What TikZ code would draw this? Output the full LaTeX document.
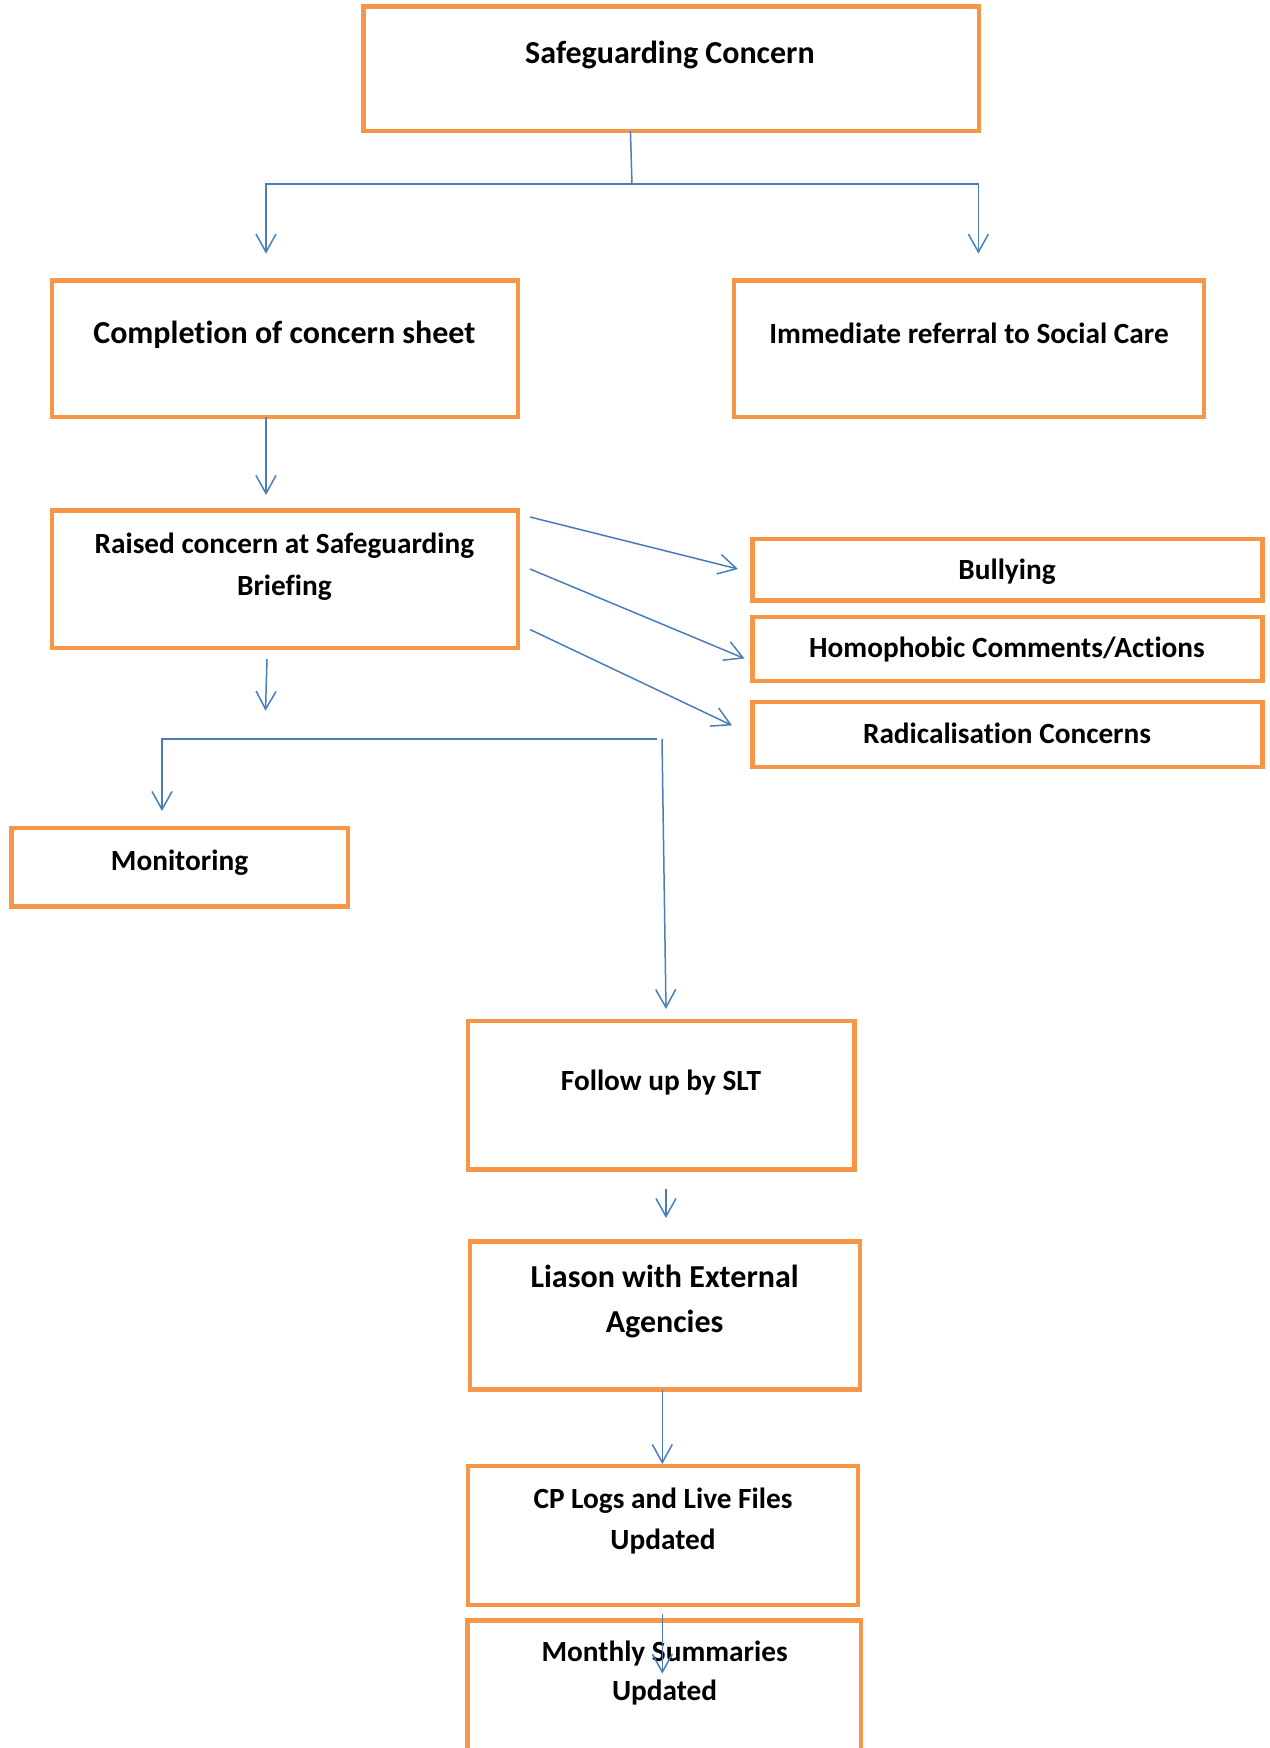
\documentclass[tikz,border=0pt]{standalone}
\usepackage{fontspec}
\setmainfont{Carlito}[Ligatures={NoCommon}]
\usetikzlibrary{arrows.meta}
\definecolor{boxorange}{HTML}{F79646}
\definecolor{linkblue}{HTML}{4A7EBB}
\tikzset{
  box/.style={draw=boxorange, line width=4.5pt, rectangle, inner sep=0pt, outer sep=0pt},
  bigtxt/.style={anchor=base, inner sep=0pt, align=center, font=\fontsize{32}{45}\selectfont\bfseries},
  smalltxt/.style={anchor=base, inner sep=0pt, align=center, font=\fontsize{29.3}{41.5}\selectfont\bfseries},
  conn/.style={draw=linkblue, line width=1.5pt},
  arr/.style={conn, -{Straight Barb[length=18pt,width=20pt]}},
}
\begin{document}
\begin{tikzpicture}[x=1pt,y=-1pt]
\useasboundingbox (0,0) rectangle (1269,1748);
% boxes
\node[box, minimum width=615.8pt, minimum height=124.3pt] (b1) at (671.3,68.65) {};
\node[box, minimum width=466.2pt, minimum height=136.6pt] (b2) at (284.9,348.7) {};
\node[box, minimum width=470.2pt, minimum height=136.6pt] (b3) at (969.1,348.7) {};
\node[box, minimum width=466.2pt, minimum height=137.9pt] (b4) at (284.9,579.25) {};
\node[box, minimum width=509.8pt, minimum height=61.6pt] (b5) at (1007.5,569.6) {};
\node[box, minimum width=509.8pt, minimum height=63.8pt] (b6) at (1007.5,648.9) {};
\node[box, minimum width=509.8pt, minimum height=64.8pt] (b7) at (1007.5,734.6) {};
\node[box, minimum width=336.7pt, minimum height=78.3pt] (b8) at (179.65,867.15) {};
\node[box, minimum width=386.8pt, minimum height=148.6pt] (b9) at (661.2,1095.3) {};
\node[box, minimum width=390pt, minimum height=148.1pt] (b10) at (665,1315.65) {};
\node[box, minimum width=390pt, minimum height=139pt] (b11) at (663,1535.5) {};
\node[box, minimum width=393.5pt, minimum height=149.4pt] (b12) at (664.25,1695.3) {};
% texts (multi-line nodes are anchored at the baseline of their last line)
\node[bigtxt] (t1) at (670,63) {Safeguarding Concern};
\node[bigtxt] (t2) at (284.4,343) {Completion of concern sheet};
\node[smalltxt] (t3) at (969,343) {Immediate referral to Social Care};
\node[smalltxt] (t4) at (284.4,595.3) {Raised concern at Safeguarding\\Briefing};
\node[smalltxt] (t5) at (1007,579.2) {Bullying};
\node[smalltxt] (t6) at (1007,657.3) {Homophobic Comments/Actions};
\node[smalltxt] (t7) at (1007,743.5) {Radicalisation Concerns};
\node[smalltxt] (t8) at (179.5,870.2) {Monitoring};
\node[smalltxt] (t9) at (661,1090.3) {Follow up by SLT};
\node[bigtxt] (t10) at (664.6,1332.3) {Liason with External\\Agencies};
\node[smalltxt] (t11) at (663,1549.8) {CP Logs and Live Files\\Updated};
\node[smalltxt, font=\fontsize{29.3}{39.5}\selectfont\bfseries] (t12) at (664.6,1700.8) {Monthly Summaries\\Updated};
% connector points
\coordinate (c1s) at (630.4,130.8);
\coordinate (j1) at (632,184);
\coordinate (e2) at (266,253.6);
\coordinate (e3) at (978.4,253.6);
\coordinate (c2s) at (266,417);
\coordinate (e4) at (266,495);
\coordinate (r1s) at (530,517);
\coordinate (r1e) at (738,569);
\coordinate (r2s) at (530,569);
\coordinate (r2e) at (744.5,658.5);
\coordinate (r3s) at (530,629.5);
\coordinate (r3e) at (732,725.4);
\coordinate (d4s) at (267,659);
\coordinate (d4e) at (265.5,710.7);
\coordinate (h2r) at (657,738.8);
\coordinate (e8) at (162,811);
\coordinate (v9s) at (662,738.8);
\coordinate (e9) at (666,1009);
\coordinate (v10s) at (666,1189);
\coordinate (e10) at (666,1218);
\coordinate (v11s) at (662.3,1389.7);
\coordinate (e11) at (662.3,1464);
\coordinate (v12s) at (662.3,1613.7);
\coordinate (e12) at (662.3,1673.6);
% connectors
\draw[conn] (c1s) -- (j1);
\draw[arr] (j1) -| (e2);
\draw[arr] (j1) -| (e3);
\draw[arr] (c2s) -- (e4);
\draw[arr] (r1s) -- (r1e);
\draw[arr] (r2s) -- (r2e);
\draw[arr] (r3s) -- (r3e);
\draw[arr] (d4s) -- (d4e);
\draw[arr] (h2r) -| (e8);
\draw[arr] (v9s) -- (e9);
\draw[arr] (v10s) -- (e10);
\draw[arr] (v11s) -- (e11);
\draw[arr] (v12s) -- (e12);
\end{tikzpicture}
\end{document}
